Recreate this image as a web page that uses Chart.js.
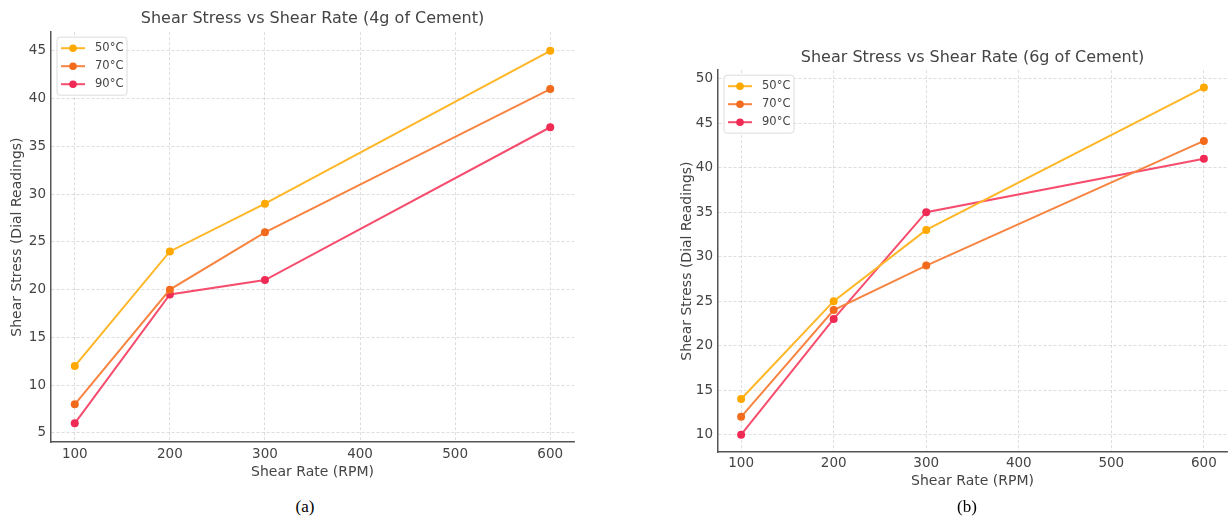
<!DOCTYPE html>
<html>
<head>
<meta charset="utf-8">
<script src="https://cdn.jsdelivr.net/npm/chart.js@4.4.1/dist/chart.umd.min.js"></script>
<style>
  body { margin: 0; background: #fff; width: 1231px; height: 517px; overflow: hidden; position: relative; }
  canvas { position: absolute; }
  #chartA { left: 0; top: 0; }
  #chartB { left: 660px; top: 40px; }
  .caption { position: absolute; font-family: "Liberation Serif", serif; font-size: 17px; color: #000; transform: translate(-50%, -50%); }
</style>
</head>
<body>
<canvas id="chartA" width="600" height="490"></canvas>
<canvas id="chartB" width="571" height="460"></canvas>
<div class="caption" style="left:305px; top:507px;">(a)</div>
<div class="caption" style="left:967px; top:507px;">(b)</div>
<script>
const shearRate = [100, 200, 300, 600];
const tempLabels = ["50°C", "70°C", "90°C"];

// 4g of cement
const cement4g50 = [12, 24, 29, 45];
const cement4g70 = [8, 20, 26, 41];
const cement4g90 = [6, 19.5, 21, 37];

// 6g of cement
const cement6g50 = [14, 25, 33, 49];
const cement6g70 = [12, 24, 29, 43];
const cement6g90 = [10, 23, 35, 41];

const lineColors = ["#FFB627", "#F78440", "#F64D6E"];
const pointColors = ["#FFA800", "#F26B1D", "#EF2A55"];

const textColor = "#444";
const fontFamily = "'DejaVu Sans', sans-serif";

// legend box inside the plot (like matplotlib upper left)
const boxLegend = {
  id: "boxLegend",
  afterDraw(chart) {
    const ctx = chart.ctx;
    const area = chart.chartArea;
    const x0 = area.left + 6;
    const y0 = area.top + 5;
    ctx.save();
    ctx.fillStyle = "rgba(255,255,255,0.85)";
    ctx.strokeStyle = "#dcdcdc";
    ctx.lineWidth = 1;
    ctx.beginPath();
    ctx.roundRect(x0, y0, 70, 58, 3);
    ctx.fill();
    ctx.stroke();
    chart.data.datasets.forEach((ds, i) => {
      const y = y0 + 11 + i * 18;
      ctx.strokeStyle = ds.borderColor;
      ctx.lineWidth = 2;
      ctx.beginPath();
      ctx.moveTo(x0 + 4, y);
      ctx.lineTo(x0 + 28, y);
      ctx.stroke();
      ctx.fillStyle = ds.pointBackgroundColor;
      ctx.beginPath();
      ctx.arc(x0 + 16, y, 3.8, 0, Math.PI * 2);
      ctx.fill();
      ctx.fillStyle = textColor;
      ctx.font = "11.5px " + fontFamily;
      ctx.textBaseline = "middle";
      ctx.fillText(ds.label, x0 + 38, y);
    });
    ctx.restore();
  },
};

function makeDatasets(series) {
  return series.map((vals, i) => ({
    label: tempLabels[i],
    data: shearRate.map((x, j) => ({ x: x, y: vals[j] })),
    borderColor: lineColors[i],
    backgroundColor: lineColors[i],
    pointBackgroundColor: pointColors[i],
    pointBorderWidth: 0,
    pointRadius: 4,
    borderWidth: 2,
    tension: 0,
  }));
}

// matplotlib style 5% margins
function padRange(arr) {
  const lo = Math.min(...arr);
  const hi = Math.max(...arr);
  const pad = (hi - lo) * 0.05;
  return [lo - pad, hi + pad];
}

function makeConfig(series, opt) {
  const yr = padRange(series.flat());
  const xr = padRange(shearRate);
  return {
    type: "line",
    data: { datasets: makeDatasets(series) },
    plugins: [boxLegend],
    options: {
      responsive: false,
      animation: false,
      layout: { padding: { left: 0, right: opt.padRight, top: 0, bottom: 0 } },
      plugins: {
        legend: { display: false },
        tooltip: { enabled: false },
        title: {
          display: true,
          text: opt.title,
          fullSize: false,
          color: textColor,
          font: { family: fontFamily, size: 16, weight: "normal" },
          padding: { top: opt.titleTop, bottom: opt.titleBottom },
        },
      },
      scales: {
        x: {
          type: "linear",
          min: xr[0],
          max: xr[1],
          afterFit: (scale) => { scale.height = opt.xHeight; },
          ticks: {
            stepSize: 100,
            includeBounds: false,
            color: textColor,
            padding: opt.xTickPad,
            maxRotation: 0,
            font: { family: fontFamily, size: 13.5 },
          },
          grid: { color: "rgba(0,0,0,0.17)", lineWidth: 0.8, drawTicks: false },
          border: { color: "#555", width: 1.5, dash: [3, 2] },
          title: {
            display: true,
            text: "Shear Rate (RPM)",
            color: textColor,
            font: { family: fontFamily, size: 14 },
            padding: { top: 0, bottom: opt.xTitlePad },
          },
        },
        y: {
          min: yr[0],
          max: yr[1],
          afterFit: (scale) => { scale.width = opt.yWidth; },
          ticks: {
            stepSize: 5,
            includeBounds: false,
            color: textColor,
            padding: opt.yTickPad,
            font: { family: fontFamily, size: 13.5 },
          },
          grid: { color: "rgba(0,0,0,0.17)", lineWidth: 0.8, drawTicks: false },
          border: { color: "#555", width: 1.5, dash: [3, 2] },
          title: {
            display: true,
            text: "Shear Stress (Dial Readings)",
            color: textColor,
            font: { family: fontFamily, size: 14 },
            padding: { top: opt.yTitlePad, bottom: 0 },
          },
        },
      },
    },
  };
}

new Chart(document.getElementById("chartA"), makeConfig(
  [cement4g50, cement4g70, cement4g90],
  {
    title: "Shear Stress vs Shear Rate (4g of Cement)",
    padRight: 26, titleTop: 9, titleBottom: 4,
    xHeight: 48, xTickPad: 4, xTitlePad: 9,
    yWidth: 51, yTickPad: 5, yTitlePad: 9,
  }
));

new Chart(document.getElementById("chartB"), makeConfig(
  [cement6g50, cement6g70, cement6g90],
  {
    title: "Shear Stress vs Shear Rate (6g of Cement)",
    padRight: 0, titleTop: 8, titleBottom: 3,
    xHeight: 48, xTickPad: 3, xTitlePad: 10,
    yWidth: 58, yTickPad: 5, yTitlePad: 19,
  }
));
</script>
</body>
</html>
